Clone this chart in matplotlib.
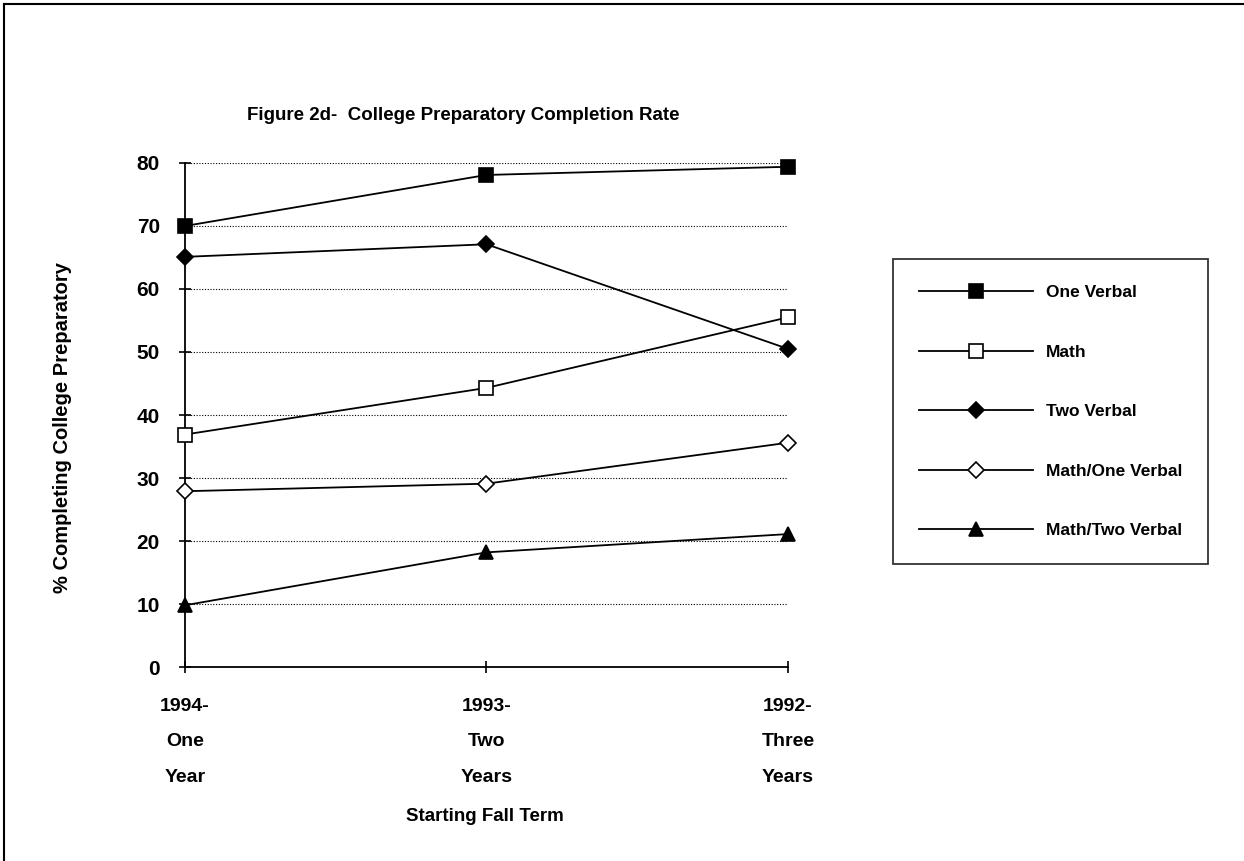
import matplotlib.pyplot as plt
from matplotlib.lines import Line2D

plt.rcParams['font.family'] = ['Liberation Sans', 'DejaVu Sans']
plt.rcParams['font.weight'] = 'bold'

terms = ["1994-\nOne\nYear", "1993-\nTwo\nYears", "1992-\nThree\nYears"]
one_verbal = [70.0, 78.1, 79.4]
math = [36.9, 44.3, 55.5]
two_verbal = [65.1, 67.1, 50.5]
math_one_verbal = [27.9, 29.1, 35.6]
math_two_verbal = [9.8, 18.2, 21.1]

series = [
    ("One Verbal", one_verbal, "s", "black", 10.5),
    ("Math", math, "s", "white", 10.5),
    ("Two Verbal", two_verbal, "D", "black", 8),
    ("Math/One Verbal", math_one_verbal, "D", "white", 8),
    ("Math/Two Verbal", math_two_verbal, "^", "black", 9.5),
]

fig = plt.figure(figsize=(12.44, 8.61), dpi=100)
# scanned page border: only top and left edges visible
fig.lines.append(Line2D([0.003, 1.0], [0.995, 0.995], transform=fig.transFigure,
                        color='black', linewidth=1.5))
fig.lines.append(Line2D([0.003, 0.003], [0.0, 0.995], transform=fig.transFigure,
                        color='black', linewidth=1.5))
ax = fig.add_axes([0.1487, 0.2253, 0.4847, 0.5854])

x = list(range(len(terms)))
for name, vals, mk, fc, ms in series:
    ax.plot(x, vals, color='black', linewidth=1.3, marker=mk, markersize=ms,
            markerfacecolor=fc, markeredgecolor='black', markeredgewidth=1.2,
            label=name, clip_on=False, zorder=3)

ax.set_xlim(0, 2)
ax.set_ylim(0, 80)
ax.set_yticks(range(0, 81, 10))
ax.set_xticks(x)
ax.set_xticklabels(terms, linespacing=2.45)
ax.tick_params(axis='both', direction='inout', length=8, width=1.2, labelsize=15)
ax.tick_params(axis='x', labelsize=14, pad=18)
ax.tick_params(axis='y', pad=14)
ax.yaxis.grid(True, linestyle=(0, (1, 1.5)), color='black', linewidth=0.8)
ax.set_axisbelow(True)
for s in ['top', 'right']:
    ax.spines[s].set_visible(False)
for s in ['left', 'bottom']:
    ax.spines[s].set_linewidth(1.3)

fig.text(0.372, 0.866, "Figure 2d-  College Preparatory Completion Rate",
         ha='center', va='center', fontsize=13.5)
fig.text(0.05, 0.503, "% Completing College Preparatory", rotation=90,
         ha='center', va='center', fontsize=14.5)
fig.text(0.39, 0.052, "Starting Fall Term", ha='center', va='center', fontsize=13.5)

leg = fig.legend(loc='upper left', bbox_to_anchor=(0.7107, 0.709), frameon=True,
                 fancybox=False, edgecolor='black', fontsize=12.5, handlelength=6.6,
                 labelspacing=2.55, borderpad=1.5, handletextpad=0.7)
leg.get_frame().set_linewidth(1.3)

fig.savefig("out.png", dpi=100)
